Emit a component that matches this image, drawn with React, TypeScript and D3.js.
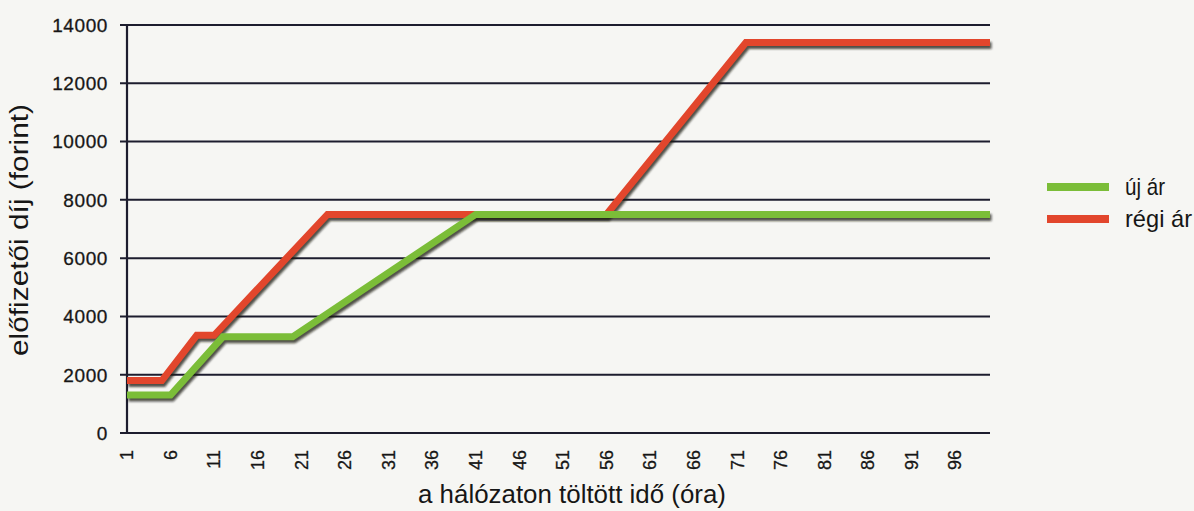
import React from "react";
import * as d3 from "d3";

// ---- data ----
const hoursNew = [1, 6, 12, 20, 41, 100];
const priceNew = [1300, 1300, 3300, 3300, 7500, 7500];
const hoursOld = [1, 5, 9, 11, 24, 56, 72, 100];
const priceOld = [1800, 1800, 3350, 3350, 7500, 7500, 13400, 13400];
const xTickValues = d3.range(1, 100, 5); // 1, 6, ..., 96
const yTickValues = [0, 2000, 4000, 6000, 8000, 10000, 12000, 14000];
const seriesNames = ["új ár", "régi ár"];
const xTitle = "a hálózaton töltött idő (óra)";
const yTitle = "előfizetői díj (forint)";

const W = 1194;
const H = 511;
const GREEN = "#7bbd38";
const RED = "#e2462c";
const GRID = "#1d1d2e";
const TXT = "#161616";

export default function App() {
  const x = d3.scaleLinear().domain([1, 100]).range([127, 990]);
  const y = d3.scaleLinear().domain([0, 14000]).range([433, 25]);
  const line = d3
    .line<[number, number]>()
    .x((d) => x(d[0]))
    .y((d) => y(d[1]));
  const newPts = hoursNew.map((h, i) => [h, priceNew[i]] as [number, number]);
  const oldPts = hoursOld.map((h, i) => [h, priceOld[i]] as [number, number]);
  const series = [
    { name: seriesNames[1], pts: oldPts, color: RED },
    { name: seriesNames[0], pts: newPts, color: GREEN },
  ];

  return (
    <svg
      width={W}
      height={H}
      style={{ position: "absolute", left: 0, top: 0, background: "#f6f6f3" }}
      fontFamily="'Liberation Sans', Arial, sans-serif"
    >
      <defs>
        <filter id="sh" x="-5%" y="-20%" width="110%" height="140%">
          <feGaussianBlur stdDeviation="1.2" />
        </filter>
      </defs>
      <rect x={0} y={0} width={W} height={H} fill="#f6f6f3" />

      {/* gridlines + y ticks */}
      {yTickValues.map((v) => (
        <g key={v}>
          <line x1={120} x2={990} y1={y(v)} y2={y(v)} stroke={GRID} strokeWidth={2} />
          <text
            x={108}
            y={y(v)}
            dy="0.36em"
            textAnchor="end"
            fontSize={19}
            letterSpacing={0.6}
            fill={TXT}
            stroke={TXT}
            strokeWidth={0.3}
          >
            {v}
          </text>
        </g>
      ))}
      {/* y axis line */}
      <line x1={x(1)} x2={x(1)} y1={y(14000)} y2={y(0)} stroke={GRID} strokeWidth={2.2} />

      {/* x tick labels */}
      {xTickValues.map((v) => (
        <text
          key={v}
          transform={`translate(${x(v)},450) rotate(-90)`}
          dy="0.35em"
          textAnchor="end"
          fontSize={18}
          fill={TXT}
          stroke={TXT}
          strokeWidth={0.3}
        >
          {v}
        </text>
      ))}

      {/* series: shadow then line */}
      {series.map((s) => (
        <g key={s.name}>
          <path
            d={line(s.pts) || ""}
            transform="translate(1.5,3)"
            fill="none"
            stroke="#1e1e14"
            strokeOpacity={0.75}
            strokeWidth={7}
            strokeLinejoin="miter"
            filter="url(#sh)"
          />
          <path
            d={line(s.pts) || ""}
            fill="none"
            stroke={s.color}
            strokeWidth={7}
            strokeLinejoin="miter"
          />
        </g>
      ))}

      {/* axis titles */}
      <text
        x={572}
        y={503}
        textAnchor="middle"
        fontSize={25}
        textLength={308}
        lengthAdjust="spacingAndGlyphs"
        fill={TXT}
      >
        {xTitle}
      </text>
      <text
        transform={`translate(28,230) rotate(-90)`}
        textAnchor="middle"
        fontSize={25}
        textLength={252}
        lengthAdjust="spacingAndGlyphs"
        fill={TXT}
      >
        {yTitle}
      </text>

      {/* legend */}
      {[
        { name: seriesNames[0], color: GREEN, cy: 187 },
        { name: seriesNames[1], color: RED, cy: 219 },
      ].map((l) => (
        <g key={l.name}>
          <line
            x1={1048}
            x2={1110}
            y1={l.cy + 2.5}
            y2={l.cy + 2.5}
            stroke="#1e1e14"
            strokeOpacity={0.7}
            strokeWidth={8}
            transform="translate(1.5,0)"
            filter="url(#sh)"
          />
          <line x1={1047} x2={1109} y1={l.cy} y2={l.cy} stroke={l.color} strokeWidth={8} />
          <text
            x={1125}
            y={l.cy + 8}
            fontSize={24}
            fill={TXT}
            textLength={l.name.length > 5 ? 67 : 40}
            lengthAdjust="spacingAndGlyphs"
          >
            {l.name}
          </text>
        </g>
      ))}
    </svg>
  );
}
